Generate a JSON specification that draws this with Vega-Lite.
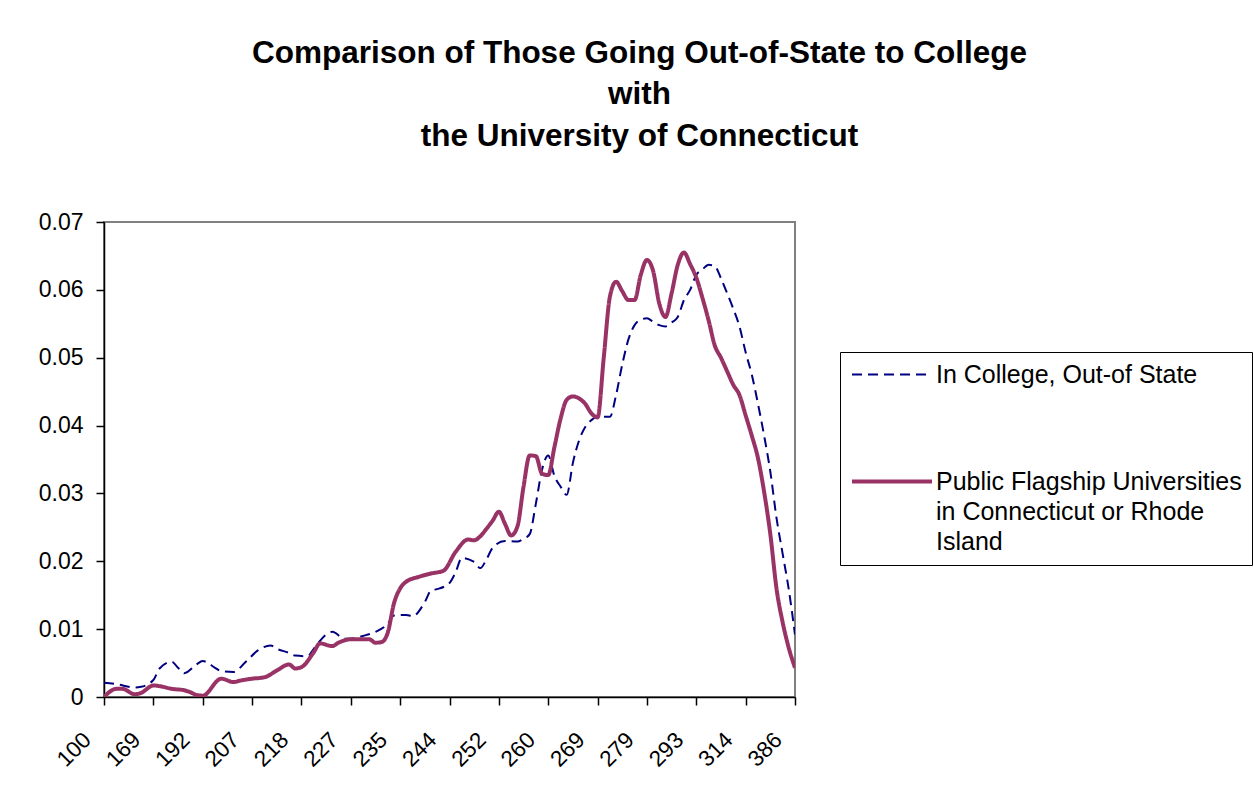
{
  "$schema": "https://vega.github.io/schema/vega-lite/v6.json",
  "width": 691,
  "height": 475,
  "autosize": {"type": "none"},
  "padding": {"left": 104, "top": 222, "right": 458, "bottom": 96},
  "background": "white",
  "title": {
    "text": ["Comparison of Those Going Out-of-State to College", "with", "the University of Connecticut"],
    "font": "Liberation Sans",
    "fontSize": 31.5,
    "fontWeight": "bold",
    "color": "black",
    "lineHeight": 41.5,
    "anchor": "middle",
    "dx": 190,
    "offset": 59
  },
  "config": {
    "view": {"stroke": "#808080", "strokeWidth": 2},
    "font": "Liberation Sans"
  },
  "data": {
    "values": [
      {"i": 0, "s": "out", "v": 0.0021}, {"i": 2, "s": "out", "v": 0.0019}, {"i": 5, "s": "out", "v": 0.0014}, {"i": 6, "s": "out", "v": 0.0015},
      {"i": 8, "s": "out", "v": 0.0025}, {"i": 9, "s": "out", "v": 0.0042}, {"i": 11, "s": "out", "v": 0.0052}, {"i": 12, "s": "out", "v": 0.0043},
      {"i": 13, "s": "out", "v": 0.0035}, {"i": 15, "s": "out", "v": 0.0048}, {"i": 16, "s": "out", "v": 0.0053}, {"i": 18, "s": "out", "v": 0.0043},
      {"i": 19, "s": "out", "v": 0.0038}, {"i": 21, "s": "out", "v": 0.0037}, {"i": 23, "s": "out", "v": 0.0052}, {"i": 25, "s": "out", "v": 0.0069},
      {"i": 27, "s": "out", "v": 0.0076}, {"i": 28, "s": "out", "v": 0.0071}, {"i": 30, "s": "out", "v": 0.0065}, {"i": 31, "s": "out", "v": 0.0061},
      {"i": 33, "s": "out", "v": 0.006}, {"i": 34, "s": "out", "v": 0.0071}, {"i": 36, "s": "out", "v": 0.0092}, {"i": 37, "s": "out", "v": 0.0096},
      {"i": 39, "s": "out", "v": 0.0086}, {"i": 40, "s": "out", "v": 0.0086}, {"i": 42, "s": "out", "v": 0.009}, {"i": 44, "s": "out", "v": 0.0096},
      {"i": 46, "s": "out", "v": 0.0108}, {"i": 47, "s": "out", "v": 0.012}, {"i": 49, "s": "out", "v": 0.0121}, {"i": 50, "s": "out", "v": 0.0119},
      {"i": 52, "s": "out", "v": 0.014}, {"i": 53, "s": "out", "v": 0.0157}, {"i": 54, "s": "out", "v": 0.0159}, {"i": 56, "s": "out", "v": 0.0168},
      {"i": 57, "s": "out", "v": 0.0184}, {"i": 58, "s": "out", "v": 0.0205}, {"i": 60, "s": "out", "v": 0.0199}, {"i": 61, "s": "out", "v": 0.019},
      {"i": 62, "s": "out", "v": 0.0203}, {"i": 63, "s": "out", "v": 0.022}, {"i": 65, "s": "out", "v": 0.023}, {"i": 67, "s": "out", "v": 0.0229},
      {"i": 68, "s": "out", "v": 0.0233}, {"i": 69, "s": "out", "v": 0.024}, {"i": 70, "s": "out", "v": 0.0285}, {"i": 71, "s": "out", "v": 0.0335},
      {"i": 72, "s": "out", "v": 0.0356}, {"i": 73, "s": "out", "v": 0.0326}, {"i": 74, "s": "out", "v": 0.031}, {"i": 75, "s": "out", "v": 0.0298},
      {"i": 76, "s": "out", "v": 0.0345}, {"i": 77, "s": "out", "v": 0.0378}, {"i": 78, "s": "out", "v": 0.0398}, {"i": 79, "s": "out", "v": 0.0408},
      {"i": 80, "s": "out", "v": 0.0413}, {"i": 81, "s": "out", "v": 0.0413}, {"i": 82, "s": "out", "v": 0.0413}, {"i": 83, "s": "out", "v": 0.0445},
      {"i": 84, "s": "out", "v": 0.049}, {"i": 85, "s": "out", "v": 0.0527}, {"i": 86, "s": "out", "v": 0.0548}, {"i": 87, "s": "out", "v": 0.0556},
      {"i": 88, "s": "out", "v": 0.0558}, {"i": 89, "s": "out", "v": 0.0553}, {"i": 90, "s": "out", "v": 0.0548}, {"i": 91, "s": "out", "v": 0.0546},
      {"i": 92, "s": "out", "v": 0.0552}, {"i": 93, "s": "out", "v": 0.056}, {"i": 94, "s": "out", "v": 0.0585}, {"i": 95, "s": "out", "v": 0.06},
      {"i": 96, "s": "out", "v": 0.0622}, {"i": 97, "s": "out", "v": 0.063}, {"i": 98, "s": "out", "v": 0.0637}, {"i": 99, "s": "out", "v": 0.0635},
      {"i": 100, "s": "out", "v": 0.0617}, {"i": 101, "s": "out", "v": 0.0595}, {"i": 102, "s": "out", "v": 0.0572}, {"i": 103, "s": "out", "v": 0.0546},
      {"i": 104, "s": "out", "v": 0.0508}, {"i": 105, "s": "out", "v": 0.0475}, {"i": 106, "s": "out", "v": 0.0432}, {"i": 107, "s": "out", "v": 0.0385},
      {"i": 108, "s": "out", "v": 0.0332}, {"i": 109, "s": "out", "v": 0.0264}, {"i": 110, "s": "out", "v": 0.0211}, {"i": 111, "s": "out", "v": 0.0158},
      {"i": 112, "s": "out", "v": 0.0092},
      {"i": 0, "s": "flag", "v": 0}, {"i": 2, "s": "flag", "v": 0.0012}, {"i": 3, "s": "flag", "v": 0.0012}, {"i": 5, "s": "flag", "v": 0.0004},
      {"i": 6, "s": "flag", "v": 0.0006}, {"i": 8, "s": "flag", "v": 0.0017}, {"i": 9, "s": "flag", "v": 0.0016}, {"i": 11, "s": "flag", "v": 0.0012},
      {"i": 13, "s": "flag", "v": 0.001}, {"i": 14, "s": "flag", "v": 0.0007}, {"i": 15, "s": "flag", "v": 0.0003}, {"i": 16, "s": "flag", "v": 0.0002},
      {"i": 19, "s": "flag", "v": 0.0027}, {"i": 21, "s": "flag", "v": 0.0022}, {"i": 22, "s": "flag", "v": 0.0024}, {"i": 24, "s": "flag", "v": 0.0027},
      {"i": 26, "s": "flag", "v": 0.0029}, {"i": 28, "s": "flag", "v": 0.0039}, {"i": 30, "s": "flag", "v": 0.0048}, {"i": 31, "s": "flag", "v": 0.0042},
      {"i": 32, "s": "flag", "v": 0.0044}, {"i": 34, "s": "flag", "v": 0.0066}, {"i": 35, "s": "flag", "v": 0.0079}, {"i": 37, "s": "flag", "v": 0.0075},
      {"i": 38, "s": "flag", "v": 0.008}, {"i": 40, "s": "flag", "v": 0.0085}, {"i": 43, "s": "flag", "v": 0.0085}, {"i": 44, "s": "flag", "v": 0.008},
      {"i": 45, "s": "flag", "v": 0.0081}, {"i": 46, "s": "flag", "v": 0.0095}, {"i": 47, "s": "flag", "v": 0.0138}, {"i": 48, "s": "flag", "v": 0.016},
      {"i": 49, "s": "flag", "v": 0.017}, {"i": 51, "s": "flag", "v": 0.0177}, {"i": 53, "s": "flag", "v": 0.0182}, {"i": 55, "s": "flag", "v": 0.0186},
      {"i": 57, "s": "flag", "v": 0.0214}, {"i": 59, "s": "flag", "v": 0.0232}, {"i": 60, "s": "flag", "v": 0.0231}, {"i": 61, "s": "flag", "v": 0.0237},
      {"i": 62, "s": "flag", "v": 0.0248}, {"i": 63, "s": "flag", "v": 0.026}, {"i": 64, "s": "flag", "v": 0.0273}, {"i": 65, "s": "flag", "v": 0.0255},
      {"i": 66, "s": "flag", "v": 0.0238}, {"i": 67, "s": "flag", "v": 0.0251}, {"i": 68, "s": "flag", "v": 0.031}, {"i": 69, "s": "flag", "v": 0.0356},
      {"i": 70, "s": "flag", "v": 0.0355}, {"i": 71, "s": "flag", "v": 0.0329}, {"i": 72, "s": "flag", "v": 0.0327}, {"i": 73, "s": "flag", "v": 0.0368},
      {"i": 74, "s": "flag", "v": 0.041}, {"i": 75, "s": "flag", "v": 0.0438}, {"i": 76, "s": "flag", "v": 0.0443}, {"i": 77, "s": "flag", "v": 0.044},
      {"i": 78, "s": "flag", "v": 0.0432}, {"i": 79, "s": "flag", "v": 0.0418}, {"i": 80, "s": "flag", "v": 0.0412}, {"i": 81, "s": "flag", "v": 0.05},
      {"i": 82, "s": "flag", "v": 0.059}, {"i": 83, "s": "flag", "v": 0.0612}, {"i": 84, "s": "flag", "v": 0.0598}, {"i": 85, "s": "flag", "v": 0.0585},
      {"i": 86, "s": "flag", "v": 0.0585}, {"i": 87, "s": "flag", "v": 0.0622}, {"i": 88, "s": "flag", "v": 0.0644}, {"i": 89, "s": "flag", "v": 0.0628},
      {"i": 90, "s": "flag", "v": 0.058}, {"i": 91, "s": "flag", "v": 0.056}, {"i": 92, "s": "flag", "v": 0.0595}, {"i": 93, "s": "flag", "v": 0.0637},
      {"i": 94, "s": "flag", "v": 0.0655}, {"i": 95, "s": "flag", "v": 0.0638}, {"i": 96, "s": "flag", "v": 0.0618}, {"i": 97, "s": "flag", "v": 0.0588},
      {"i": 98, "s": "flag", "v": 0.0555}, {"i": 99, "s": "flag", "v": 0.0518}, {"i": 100, "s": "flag", "v": 0.05}, {"i": 101, "s": "flag", "v": 0.048},
      {"i": 102, "s": "flag", "v": 0.046}, {"i": 103, "s": "flag", "v": 0.0445}, {"i": 104, "s": "flag", "v": 0.0415}, {"i": 105, "s": "flag", "v": 0.0385},
      {"i": 106, "s": "flag", "v": 0.0352}, {"i": 107, "s": "flag", "v": 0.0302}, {"i": 108, "s": "flag", "v": 0.024}, {"i": 109, "s": "flag", "v": 0.016},
      {"i": 110, "s": "flag", "v": 0.011}, {"i": 111, "s": "flag", "v": 0.0072}, {"i": 112, "s": "flag", "v": 0.0043}
    ]
  },
  "mark": {"type": "line", "interpolate": "monotone", "clip": true},
  "encoding": {
    "x": {
      "field": "i",
      "type": "quantitative",
      "scale": {"domain": [0, 112], "nice": false, "zero": false},
      "axis": {
        "title": null,
        "values": [0, 8, 16, 24, 32, 40, 48, 56, 64, 72, 80, 88, 96, 104, 112],
        "labelExpr": "['100','169','192','207','218','227','235','244','252','260','269','279','293','314','386'][round(datum.value / 8)]",
        "grid": false,
        "domainColor": "black",
        "domainWidth": 1.5,
        "tickColor": "black",
        "tickWidth": 1.5,
        "tickSize": 8,
        "labelAngle": -45,
        "labelAlign": "right",
        "labelBaseline": "middle",
        "labelFont": "Liberation Sans",
        "labelFontSize": 22.5,
        "labelColor": "black",
        "labelPadding": 31,
        "labelOffset": -17,
        "labelFlush": false,
        "labelOverlap": false
      }
    },
    "y": {
      "field": "v",
      "type": "quantitative",
      "scale": {"domain": [0, 0.07], "nice": false},
      "axis": {
        "title": null,
        "values": [0, 0.01, 0.02, 0.03, 0.04, 0.05, 0.06, 0.07],
        "format": ".2~f",
        "grid": false,
        "domainColor": "black",
        "domainWidth": 1.5,
        "tickColor": "black",
        "tickWidth": 1.5,
        "tickSize": 8,
        "labelFont": "Liberation Sans",
        "labelFontSize": 23,
        "labelColor": "black",
        "labelPadding": 13,
        "labelFlush": false,
        "labelOverlap": false
      }
    },
    "color": {
      "field": "s",
      "type": "nominal",
      "scale": {"domain": ["out", "flag"], "range": ["#000080", "#993366"]},
      "legend": {
        "title": null,
        "orient": "none",
        "legendX": 736,
        "legendY": 130,
        "direction": "vertical",
        "symbolType": "stroke",
        "symbolSize": 6400,
        "clipHeight": 25,
        "labelExpr": "datum.label == 'out' ? 'In College, Out-of State' : ['Public Flagship Universities', 'in Connecticut or Rhode', 'Island']",
        "labelFont": "Liberation Sans",
        "labelFontSize": 25,
        "labelColor": "black",
        "labelLimit": 500,
        "labelOffset": 2,
        "strokeColor": "black",
        "fillColor": "white",
        "padding": 10,
        "rowPadding": 81,
        "encode": {"labels": {"update": {"lineHeight": {"value": 30}}}}
      }
    },
    "strokeDash": {
      "field": "s",
      "type": "nominal",
      "scale": {"domain": ["out", "flag"], "range": [[10, 6], [1, 0]]},
      "legend": null
    },
    "strokeWidth": {
      "field": "s",
      "type": "nominal",
      "scale": {"domain": ["out", "flag"], "range": [2, 4]},
      "legend": null
    }
  }
}
